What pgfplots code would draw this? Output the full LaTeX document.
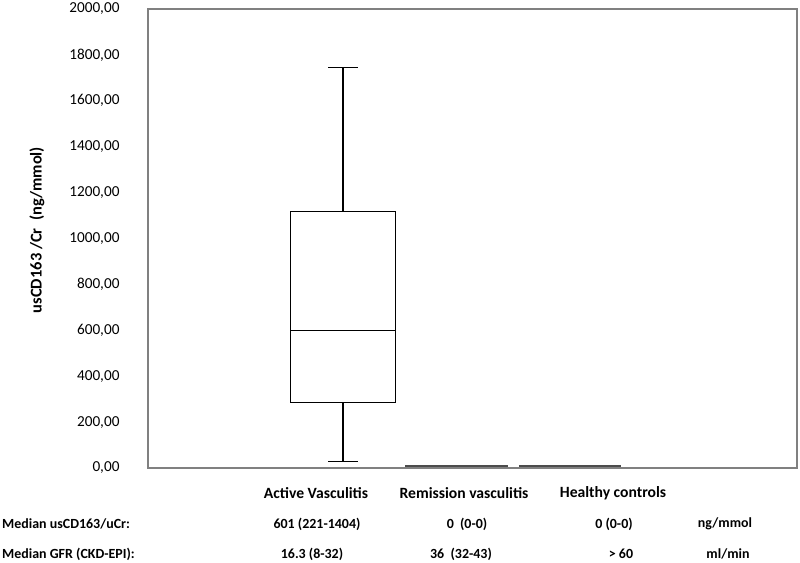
\documentclass[border=0pt]{standalone}
\usepackage{fontspec}
\setmainfont{Carlito}
\usepackage{pgfplots}
\pgfplotsset{compat=1.18}
\begin{document}
\begin{tikzpicture}
\path[use as bounding box] (0bp,0bp) rectangle (800bp,563bp);
\begin{axis}[
  at={(148bp,95bp)}, anchor=south west,
  scale only axis, width=649bp, height=459bp,
  xmin=-0.718, xmax=5.0, ymin=0, ymax=2000,
  xtick=\empty,
  ytick={0,200,...,2000},
  ytick style={draw=none},
  yticklabel style={font=\fontsize{15.3}{17}\selectfont, xshift=-25bp,
    /pgf/number format/fixed, /pgf/number format/fixed zerofill,
    /pgf/number format/precision=2, /pgf/number format/use comma,
    /pgf/number format/1000 sep={}, /pgf/number format/assume math mode=true},
  axis line style={draw=gray, line width=1.2bp},
  clip=false,
]
% Active vasculitis box
\addplot[draw=black, line width=1.2bp, mark=none, line join=miter] coordinates {(0.5375,285) (1.4625,285) (1.4625,1119) (0.5375,1119) (0.5375,285)};
\addplot[draw=black, line width=1.2bp, mark=none] coordinates {(0.5375,600) (1.4625,600)};
\addplot[draw=black, line width=1.2bp, mark=none] coordinates {(1,1119) (1,1745)};
\addplot[draw=black, line width=1.2bp, mark=none] coordinates {(0.87,1745) (1.13,1745)};
\addplot[draw=black, line width=1.2bp, mark=none] coordinates {(1,285) (1,30)};
\addplot[draw=black, line width=1.2bp, mark=none] coordinates {(0.87,30) (1.13,30)};
% Remission and healthy (all zero)
\addplot[draw=black!70, line width=2bp, mark=none] coordinates {(1.55,7) (2.45,7)};
\addplot[draw=black!70, line width=2bp, mark=none] coordinates {(2.55,7) (3.45,7)};
\end{axis}
\begin{scope}[every node/.style={font=\fontsize{14}{16}\selectfont\bfseries, inner sep=0pt}]
\node[rotate=90, font=\fontsize{16.5}{18}\selectfont\bfseries] at (37bp,333bp) {usCD163 /Cr\ \ (ng/mmol)};
\begin{scope}[every node/.append style={font=\fontsize{15.7}{18}\selectfont\bfseries}]
\node at (316bp,70bp) {Active Vasculitis};
\node at (464bp,70bp) {Remission vasculitis};
\node at (613bp,70bp) {Healthy controls};
\end{scope}
\node[anchor=west] at (2bp,39bp) {Median usCD163/uCr:};
\node at (317bp,39bp) {601 (221-1404)};
\node at (467bp,39bp) {0\ \ (0-0)};
\node at (614bp,39bp) {0 (0-0)};
\node at (725bp,39bp) {ng/mmol};
\node[anchor=west] at (2bp,9bp) {Median GFR (CKD-EPI):};
\node at (312bp,9bp) {16.3 (8-32)};
\node at (461bp,9bp) {36\ \ (32-43)};
\node at (621bp,9bp) {> 60};
\node at (728bp,9bp) {ml/min};
\end{scope}
\end{tikzpicture}
\end{document}
